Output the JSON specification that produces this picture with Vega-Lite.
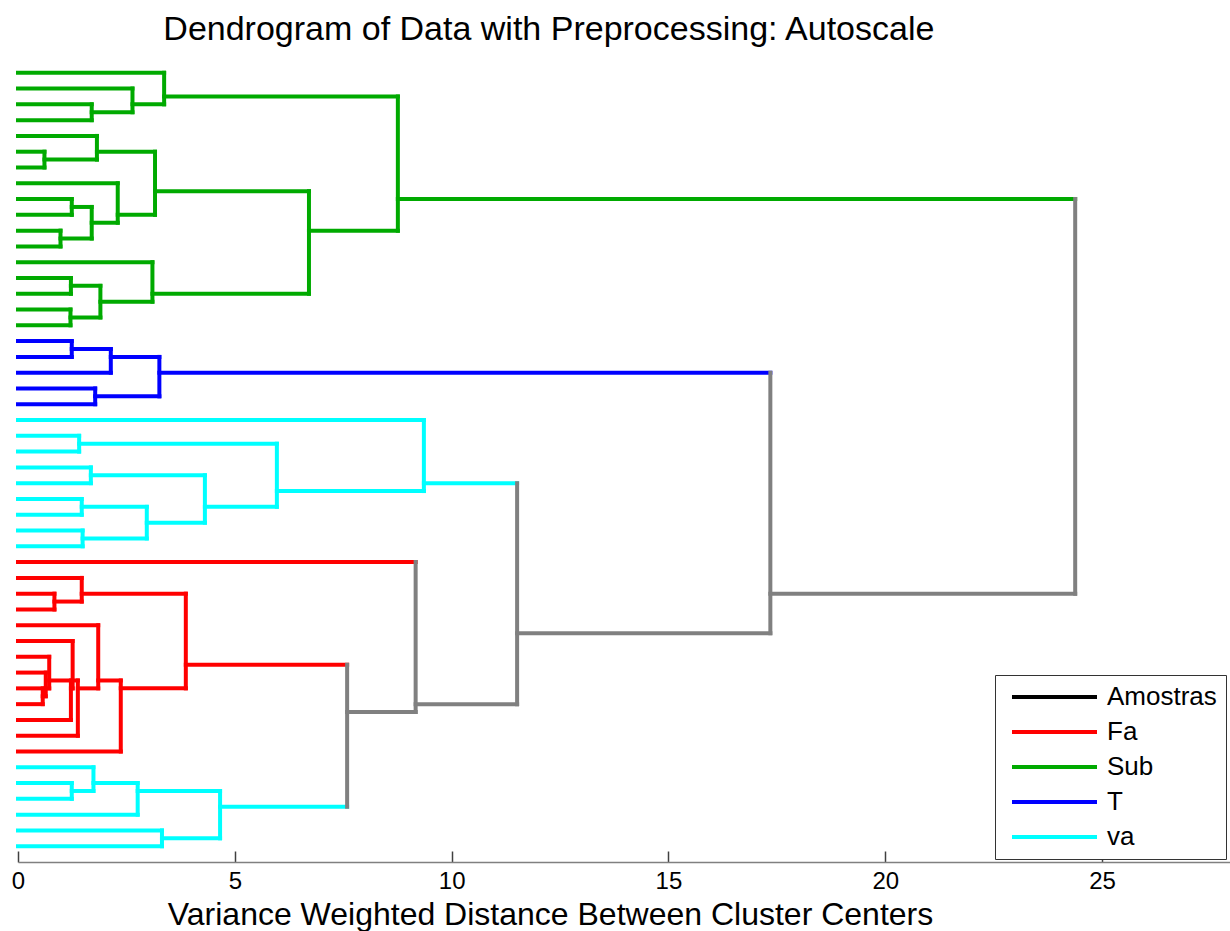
{
  "$schema": "https://vega.github.io/schema/vega-lite/v6.json",
  "autosize": {"type": "none"},
  "padding": {"left": 18, "top": 57, "right": 0, "bottom": 69},
  "width": 1212,
  "height": 805,
  "background": "white",
  "config": {"view": {"stroke": null}, "font": "Liberation Sans"},
  "title": {
    "text": "Dendrogram of Data with Preprocessing: Autoscale",
    "anchor": "start",
    "dx": 152,
    "offset": 10,
    "fontSize": 34,
    "fontWeight": "normal",
    "font": "Liberation Sans",
    "color": "black"
  },
  "data": {
    "values": [
      {"x": 0, "x2": 3.37, "y": 1, "y2": 1, "g": "Sub"},
      {"x": 0, "x2": 2.64, "y": 2, "y2": 2, "g": "Sub"},
      {"x": 0, "x2": 1.70, "y": 3, "y2": 3, "g": "Sub"},
      {"x": 0, "x2": 1.70, "y": 4, "y2": 4, "g": "Sub"},
      {"x": 0, "x2": 1.82, "y": 5, "y2": 5, "g": "Sub"},
      {"x": 0, "x2": 0.61, "y": 6, "y2": 6, "g": "Sub"},
      {"x": 0, "x2": 0.61, "y": 7, "y2": 7, "g": "Sub"},
      {"x": 0, "x2": 2.30, "y": 8, "y2": 8, "g": "Sub"},
      {"x": 0, "x2": 1.24, "y": 9, "y2": 9, "g": "Sub"},
      {"x": 0, "x2": 1.24, "y": 10, "y2": 10, "g": "Sub"},
      {"x": 0, "x2": 0.98, "y": 11, "y2": 11, "g": "Sub"},
      {"x": 0, "x2": 0.98, "y": 12, "y2": 12, "g": "Sub"},
      {"x": 0, "x2": 3.10, "y": 13, "y2": 13, "g": "Sub"},
      {"x": 0, "x2": 1.22, "y": 14, "y2": 14, "g": "Sub"},
      {"x": 0, "x2": 1.22, "y": 15, "y2": 15, "g": "Sub"},
      {"x": 0, "x2": 1.21, "y": 16, "y2": 16, "g": "Sub"},
      {"x": 0, "x2": 1.21, "y": 17, "y2": 17, "g": "Sub"},
      {"x": 1.70, "x2": 2.64, "y": 3.5, "y2": 3.5, "g": "Sub"},
      {"x": 2.64, "x2": 3.37, "y": 3, "y2": 3, "g": "Sub"},
      {"x": 3.37, "x2": 8.76, "y": 2.5, "y2": 2.5, "g": "Sub"},
      {"x": 0.61, "x2": 1.82, "y": 6.5, "y2": 6.5, "g": "Sub"},
      {"x": 1.82, "x2": 3.16, "y": 6, "y2": 6, "g": "Sub"},
      {"x": 1.24, "x2": 1.70, "y": 9.5, "y2": 9.5, "g": "Sub"},
      {"x": 0.98, "x2": 1.70, "y": 11.5, "y2": 11.5, "g": "Sub"},
      {"x": 1.70, "x2": 2.30, "y": 10.5, "y2": 10.5, "g": "Sub"},
      {"x": 2.30, "x2": 3.16, "y": 10, "y2": 10, "g": "Sub"},
      {"x": 3.16, "x2": 6.71, "y": 8.5, "y2": 8.5, "g": "Sub"},
      {"x": 1.22, "x2": 1.90, "y": 14.5, "y2": 14.5, "g": "Sub"},
      {"x": 1.21, "x2": 1.90, "y": 16.5, "y2": 16.5, "g": "Sub"},
      {"x": 1.90, "x2": 3.10, "y": 15.5, "y2": 15.5, "g": "Sub"},
      {"x": 3.10, "x2": 6.71, "y": 15, "y2": 15, "g": "Sub"},
      {"x": 6.71, "x2": 8.76, "y": 11, "y2": 11, "g": "Sub"},
      {"x": 8.76, "x2": 24.38, "y": 9, "y2": 9, "g": "Sub"},
      {"x": 1.70, "x2": 1.70, "y": 3, "y2": 4, "g": "Sub"},
      {"x": 2.64, "x2": 2.64, "y": 2, "y2": 3.5, "g": "Sub"},
      {"x": 3.37, "x2": 3.37, "y": 1, "y2": 3, "g": "Sub"},
      {"x": 0.61, "x2": 0.61, "y": 6, "y2": 7, "g": "Sub"},
      {"x": 1.82, "x2": 1.82, "y": 5, "y2": 6.5, "g": "Sub"},
      {"x": 1.24, "x2": 1.24, "y": 9, "y2": 10, "g": "Sub"},
      {"x": 0.98, "x2": 0.98, "y": 11, "y2": 12, "g": "Sub"},
      {"x": 1.70, "x2": 1.70, "y": 9.5, "y2": 11.5, "g": "Sub"},
      {"x": 2.30, "x2": 2.30, "y": 8, "y2": 10.5, "g": "Sub"},
      {"x": 3.16, "x2": 3.16, "y": 6, "y2": 10, "g": "Sub"},
      {"x": 1.22, "x2": 1.22, "y": 14, "y2": 15, "g": "Sub"},
      {"x": 1.21, "x2": 1.21, "y": 16, "y2": 17, "g": "Sub"},
      {"x": 1.90, "x2": 1.90, "y": 14.5, "y2": 16.5, "g": "Sub"},
      {"x": 3.10, "x2": 3.10, "y": 13, "y2": 15.5, "g": "Sub"},
      {"x": 6.71, "x2": 6.71, "y": 8.5, "y2": 15, "g": "Sub"},
      {"x": 8.76, "x2": 8.76, "y": 2.5, "y2": 11, "g": "Sub"},

      {"x": 0, "x2": 1.24, "y": 18, "y2": 18, "g": "T"},
      {"x": 0, "x2": 1.24, "y": 19, "y2": 19, "g": "T"},
      {"x": 0, "x2": 2.14, "y": 20, "y2": 20, "g": "T"},
      {"x": 0, "x2": 1.78, "y": 21, "y2": 21, "g": "T"},
      {"x": 0, "x2": 1.78, "y": 22, "y2": 22, "g": "T"},
      {"x": 1.24, "x2": 2.14, "y": 18.5, "y2": 18.5, "g": "T"},
      {"x": 2.14, "x2": 3.26, "y": 19, "y2": 19, "g": "T"},
      {"x": 1.78, "x2": 3.26, "y": 21.5, "y2": 21.5, "g": "T"},
      {"x": 3.26, "x2": 17.35, "y": 20, "y2": 20, "g": "T"},
      {"x": 1.24, "x2": 1.24, "y": 18, "y2": 19, "g": "T"},
      {"x": 2.14, "x2": 2.14, "y": 18.5, "y2": 20, "g": "T"},
      {"x": 1.78, "x2": 1.78, "y": 21, "y2": 22, "g": "T"},
      {"x": 3.26, "x2": 3.26, "y": 19, "y2": 21.5, "g": "T"},

      {"x": 0, "x2": 9.36, "y": 23, "y2": 23, "g": "va"},
      {"x": 0, "x2": 1.41, "y": 24, "y2": 24, "g": "va"},
      {"x": 0, "x2": 1.41, "y": 25, "y2": 25, "g": "va"},
      {"x": 0, "x2": 1.68, "y": 26, "y2": 26, "g": "va"},
      {"x": 0, "x2": 1.68, "y": 27, "y2": 27, "g": "va"},
      {"x": 0, "x2": 1.47, "y": 28, "y2": 28, "g": "va"},
      {"x": 0, "x2": 1.47, "y": 29, "y2": 29, "g": "va"},
      {"x": 0, "x2": 1.49, "y": 30, "y2": 30, "g": "va"},
      {"x": 0, "x2": 1.49, "y": 31, "y2": 31, "g": "va"},
      {"x": 1.41, "x2": 5.97, "y": 24.5, "y2": 24.5, "g": "va"},
      {"x": 1.68, "x2": 4.31, "y": 26.5, "y2": 26.5, "g": "va"},
      {"x": 1.47, "x2": 2.97, "y": 28.5, "y2": 28.5, "g": "va"},
      {"x": 1.49, "x2": 2.97, "y": 30.5, "y2": 30.5, "g": "va"},
      {"x": 2.97, "x2": 4.31, "y": 29.5, "y2": 29.5, "g": "va"},
      {"x": 4.31, "x2": 5.97, "y": 28.5, "y2": 28.5, "g": "va"},
      {"x": 5.97, "x2": 9.36, "y": 27.5, "y2": 27.5, "g": "va"},
      {"x": 9.36, "x2": 11.51, "y": 27, "y2": 27, "g": "va"},
      {"x": 1.41, "x2": 1.41, "y": 24, "y2": 25, "g": "va"},
      {"x": 1.68, "x2": 1.68, "y": 26, "y2": 27, "g": "va"},
      {"x": 1.47, "x2": 1.47, "y": 28, "y2": 29, "g": "va"},
      {"x": 1.49, "x2": 1.49, "y": 30, "y2": 31, "g": "va"},
      {"x": 2.97, "x2": 2.97, "y": 28.5, "y2": 30.5, "g": "va"},
      {"x": 4.31, "x2": 4.31, "y": 26.5, "y2": 29.5, "g": "va"},
      {"x": 5.97, "x2": 5.97, "y": 24.5, "y2": 28.5, "g": "va"},
      {"x": 9.36, "x2": 9.36, "y": 23, "y2": 27.5, "g": "va"},

      {"x": 0, "x2": 9.17, "y": 32, "y2": 32, "g": "Fa"},
      {"x": 0, "x2": 1.47, "y": 33, "y2": 33, "g": "Fa"},
      {"x": 0, "x2": 0.84, "y": 34, "y2": 34, "g": "Fa"},
      {"x": 0, "x2": 0.84, "y": 35, "y2": 35, "g": "Fa"},
      {"x": 0, "x2": 1.85, "y": 36, "y2": 36, "g": "Fa"},
      {"x": 0, "x2": 1.26, "y": 37, "y2": 37, "g": "Fa"},
      {"x": 0, "x2": 0.72, "y": 38, "y2": 38, "g": "Fa"},
      {"x": 0, "x2": 0.64, "y": 39, "y2": 39, "g": "Fa"},
      {"x": 0, "x2": 0.57, "y": 40, "y2": 40, "g": "Fa"},
      {"x": 0, "x2": 0.57, "y": 41, "y2": 41, "g": "Fa"},
      {"x": 0, "x2": 1.22, "y": 42, "y2": 42, "g": "Fa"},
      {"x": 0, "x2": 1.38, "y": 43, "y2": 43, "g": "Fa"},
      {"x": 0, "x2": 2.37, "y": 44, "y2": 44, "g": "Fa"},
      {"x": 0.84, "x2": 1.47, "y": 34.5, "y2": 34.5, "g": "Fa"},
      {"x": 1.47, "x2": 3.87, "y": 34, "y2": 34, "g": "Fa"},
      {"x": 0.57, "x2": 0.64, "y": 40.5, "y2": 40.5, "g": "Fa"},
      {"x": 0.64, "x2": 0.72, "y": 40, "y2": 40, "g": "Fa"},
      {"x": 0.72, "x2": 1.22, "y": 39.5, "y2": 39.5, "g": "Fa"},
      {"x": 1.22, "x2": 1.26, "y": 40, "y2": 40, "g": "Fa"},
      {"x": 1.26, "x2": 1.38, "y": 39.5, "y2": 39.5, "g": "Fa"},
      {"x": 1.38, "x2": 1.85, "y": 40, "y2": 40, "g": "Fa"},
      {"x": 1.85, "x2": 2.37, "y": 39.5, "y2": 39.5, "g": "Fa"},
      {"x": 2.37, "x2": 3.87, "y": 40, "y2": 40, "g": "Fa"},
      {"x": 3.87, "x2": 7.59, "y": 38.5, "y2": 38.5, "g": "Fa"},
      {"x": 0.84, "x2": 0.84, "y": 34, "y2": 35, "g": "Fa"},
      {"x": 1.47, "x2": 1.47, "y": 33, "y2": 34.5, "g": "Fa"},
      {"x": 0.57, "x2": 0.57, "y": 40, "y2": 41, "g": "Fa"},
      {"x": 0.64, "x2": 0.64, "y": 39, "y2": 40.5, "g": "Fa"},
      {"x": 0.72, "x2": 0.72, "y": 38, "y2": 40, "g": "Fa"},
      {"x": 1.22, "x2": 1.22, "y": 39.5, "y2": 42, "g": "Fa"},
      {"x": 1.26, "x2": 1.26, "y": 37, "y2": 40, "g": "Fa"},
      {"x": 1.38, "x2": 1.38, "y": 39.5, "y2": 43, "g": "Fa"},
      {"x": 1.85, "x2": 1.85, "y": 36, "y2": 40, "g": "Fa"},
      {"x": 2.37, "x2": 2.37, "y": 39.5, "y2": 44, "g": "Fa"},
      {"x": 3.87, "x2": 3.87, "y": 34, "y2": 40, "g": "Fa"},

      {"x": 0, "x2": 1.74, "y": 45, "y2": 45, "g": "va"},
      {"x": 0, "x2": 1.24, "y": 46, "y2": 46, "g": "va"},
      {"x": 0, "x2": 1.24, "y": 47, "y2": 47, "g": "va"},
      {"x": 0, "x2": 2.76, "y": 48, "y2": 48, "g": "va"},
      {"x": 0, "x2": 3.32, "y": 49, "y2": 49, "g": "va"},
      {"x": 0, "x2": 3.32, "y": 50, "y2": 50, "g": "va"},
      {"x": 1.24, "x2": 1.74, "y": 46.5, "y2": 46.5, "g": "va"},
      {"x": 1.74, "x2": 2.76, "y": 46, "y2": 46, "g": "va"},
      {"x": 2.76, "x2": 4.66, "y": 46.5, "y2": 46.5, "g": "va"},
      {"x": 3.32, "x2": 4.66, "y": 49.5, "y2": 49.5, "g": "va"},
      {"x": 4.66, "x2": 7.59, "y": 47.5, "y2": 47.5, "g": "va"},
      {"x": 1.24, "x2": 1.24, "y": 46, "y2": 47, "g": "va"},
      {"x": 1.74, "x2": 1.74, "y": 45, "y2": 46.5, "g": "va"},
      {"x": 2.76, "x2": 2.76, "y": 46, "y2": 48, "g": "va"},
      {"x": 3.32, "x2": 3.32, "y": 49, "y2": 50, "g": "va"},
      {"x": 4.66, "x2": 4.66, "y": 46.5, "y2": 49.5, "g": "va"},

      {"x": 7.59, "x2": 9.17, "y": 41.5, "y2": 41.5, "g": "gray"},
      {"x": 9.17, "x2": 11.51, "y": 41, "y2": 41, "g": "gray"},
      {"x": 11.51, "x2": 17.35, "y": 36.5, "y2": 36.5, "g": "gray"},
      {"x": 17.35, "x2": 24.38, "y": 34, "y2": 34, "g": "gray"},
      {"x": 7.59, "x2": 7.59, "y": 38.5, "y2": 47.5, "g": "gray"},
      {"x": 9.17, "x2": 9.17, "y": 32, "y2": 41.5, "g": "gray"},
      {"x": 11.51, "x2": 11.51, "y": 27, "y2": 41, "g": "gray"},
      {"x": 17.35, "x2": 17.35, "y": 20, "y2": 36.5, "g": "gray"},
      {"x": 24.38, "x2": 24.38, "y": 9, "y2": 34, "g": "gray"}
    ]
  },
  "mark": {"type": "rule", "strokeWidth": 4, "strokeCap": "square"},
  "encoding": {
    "x": {
      "field": "x",
      "type": "quantitative",
      "scale": {"domain": [0, 27.95], "nice": false, "zero": false},
      "axis": {
        "title": "Variance Weighted Distance Between Cluster Centers",
        "values": [0, 5, 10, 15, 20, 25],
        "grid": false,
        "domainColor": "#808080",
        "domainWidth": 1.5,
        "tickColor": "#404040",
        "tickWidth": 1.5,
        "tickSize": -11,
        "labelPadding": 18,
        "labelFontSize": 24,
        "labelColor": "black",
        "labelFont": "Liberation Sans",
        "labelFlush": false,
        "titleFontSize": 32,
        "titleFontWeight": "normal",
        "titleColor": "black",
        "titleFont": "Liberation Sans",
        "titleX": 532,
        "titleY": 62,
        "titleAlign": "center",
        "titleBaseline": "alphabetic"
      }
    },
    "x2": {"field": "x2"},
    "y": {
      "field": "y",
      "type": "quantitative",
      "scale": {"domain": [0, 51], "nice": false, "zero": false, "reverse": true},
      "axis": null
    },
    "y2": {"field": "y2"},
    "color": {
      "field": "g",
      "type": "nominal",
      "scale": {
        "domain": ["Amostras", "Fa", "Sub", "T", "va", "gray"],
        "range": ["#000000", "#ff0000", "#00aa00", "#0000ff", "#00ffff", "#808080"]
      },
      "legend": {
        "values": ["Amostras", "Fa", "Sub", "T", "va"],
        "title": null,
        "orient": "none",
        "legendX": 977,
        "legendY": 618,
        "symbolType": "stroke",
        "symbolSize": 7225,
        "symbolStrokeWidth": 4,
        "clipHeight": 26,
        "rowPadding": 9,
        "padding": 9,
        "symbolOffset": 6,
        "labelOffset": 8,
        "labelFontSize": 26,
        "labelFont": "Liberation Sans",
        "labelColor": "black",
        "strokeColor": "#333333",
        "fillColor": "white"
      }
    }
  }
}
